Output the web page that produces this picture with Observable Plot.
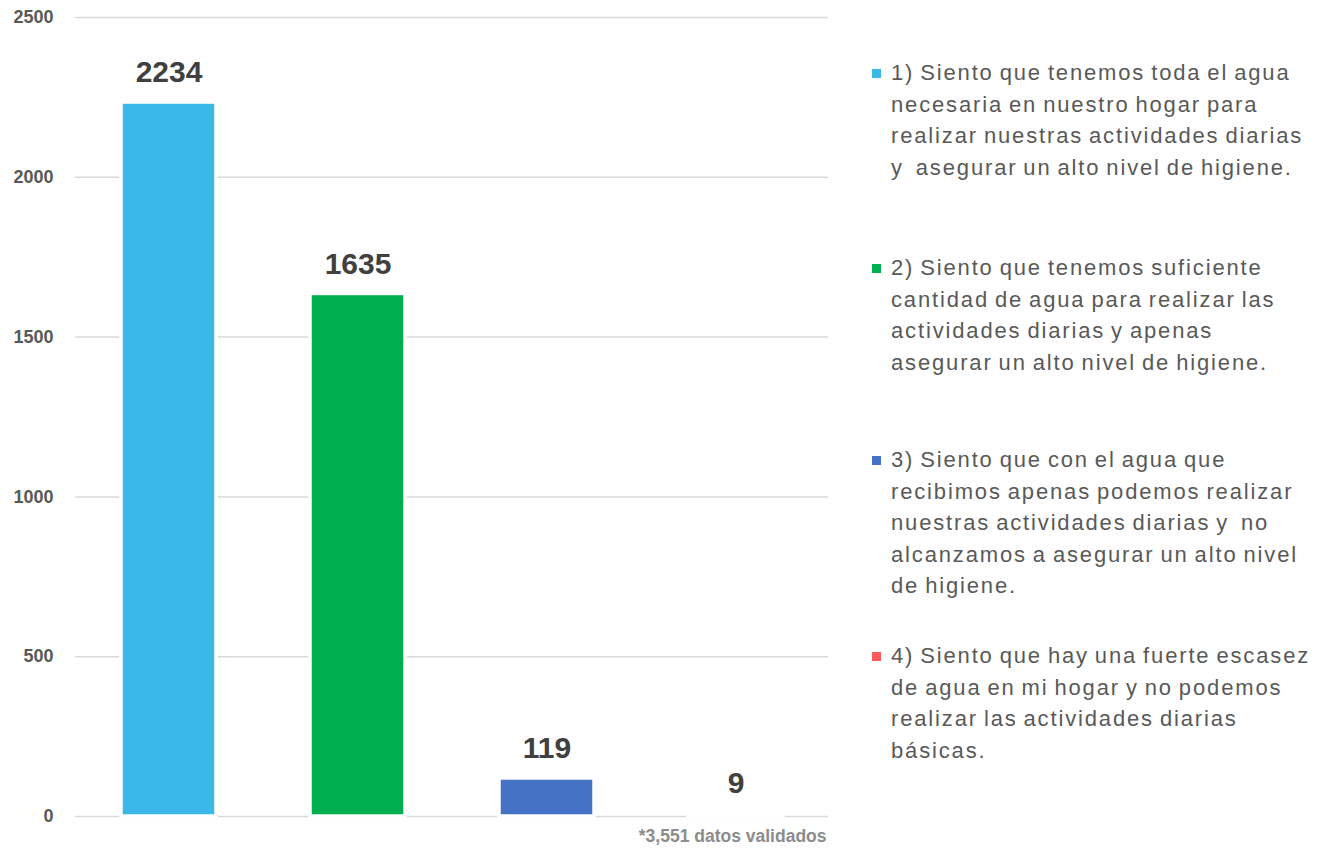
<!DOCTYPE html>
<html><head><meta charset="utf-8">
<script src="https://cdn.jsdelivr.net/npm/d3@7"></script>
<script src="https://cdn.jsdelivr.net/npm/@observablehq/plot@0.6"></script>
<style>
body{margin:0;background:#fff;}
#wrap{position:relative;width:1327px;height:851px;overflow:hidden;background:#fff;}
#chart{position:absolute;left:0;top:0;}
.item{position:absolute;left:872px;font-family:"Liberation Sans",Arial,sans-serif;font-size:22px;line-height:31.5px;color:#595959;letter-spacing:1.85px;word-spacing:-2px;}
.sw{position:absolute;left:0;top:11.25px;width:9px;height:9px;}
.txt{position:absolute;left:19px;top:0;white-space:pre;}
</style></head>
<body>
<div id="wrap"><div id="chart"></div></div>
<script>
const categories = ["1", "2", "3", "4"];
const values = [2234, 1635, 119, 9];
const colors = ["#3BB8E8", "#00B050", "#4472C4", "#FF5B5B"];
const yTicks = [0, 500, 1000, 1500, 2000, 2500];
const legendLines = [
  ["1) Siento que tenemos toda el agua", "necesaria en nuestro hogar para", "realizar nuestras actividades diarias", "y  asegurar un alto nivel de higiene."],
  ["2) Siento que tenemos suficiente", "cantidad de agua para realizar las", "actividades diarias y apenas", "asegurar un alto nivel de higiene."],
  ["3) Siento que con el agua que", "recibimos apenas podemos realizar", "nuestras actividades diarias y  no", "alcanzamos a asegurar un alto nivel", "de higiene."],
  ["4) Siento que hay una fuerte escasez", "de agua en mi hogar y no podemos", "realizar las actividades diarias", "básicas."]
];
const footnote = "*3,551 datos validados";

const data = categories.map((c, i) => ({cat: c, value: values[i], color: colors[i]}));

const chart = Plot.plot({
  width: 840,
  height: 851,
  marginLeft: 75,
  marginRight: 12,
  marginTop: 17,
  marginBottom: 35,
  style: {fontFamily: "'Liberation Sans', Arial, sans-serif", background: "transparent"},
  x: {domain: categories, paddingInner: 0.5, paddingOuter: 0.24, axis: null},
  y: {domain: [0, 2500], axis: null},
  color: {type: "identity"},
  marks: [
    Plot.gridY(yTicks, {stroke: "#d9d9d9", strokeOpacity: 1, strokeWidth: 1.5}),
    Plot.axisY(yTicks, {tickSize: 0, tickPadding: 22, tickFormat: d3.format("d"), fontSize: 18, fontWeight: "bold", fill: "#595959", label: null}),
    Plot.barY(data, {x: "cat", y: "value", fill: "color", stroke: "white", strokeWidth: 3.5}),
    Plot.text(data, {x: "cat", y: "value", text: d => String(d.value), dy: -30, fontSize: 30, fontWeight: "bold", fill: "#404040"}),
    Plot.text([footnote], {frameAnchor: "bottom-right", text: d => d, dx: -2, dy: 25, fontSize: 17.5, fontWeight: "bold", fill: "#8c8c8c"})
  ]
});
document.getElementById("chart").appendChild(chart);

const legendCenters = [73, 268, 460, 656];
const wrap = document.getElementById("wrap");
legendLines.forEach((lines, i) => {
  const item = document.createElement("div");
  item.className = "item";
  item.style.top = (legendCenters[i] - 15.75) + "px";
  const sw = document.createElement("div");
  sw.className = "sw";
  sw.style.background = colors[i];
  const txt = document.createElement("div");
  txt.className = "txt";
  lines.forEach((l, j) => {
    if (j) txt.appendChild(document.createElement("br"));
    txt.appendChild(document.createTextNode(l));
  });
  item.appendChild(sw);
  item.appendChild(txt);
  wrap.appendChild(item);
});
</script>
</body></html>
